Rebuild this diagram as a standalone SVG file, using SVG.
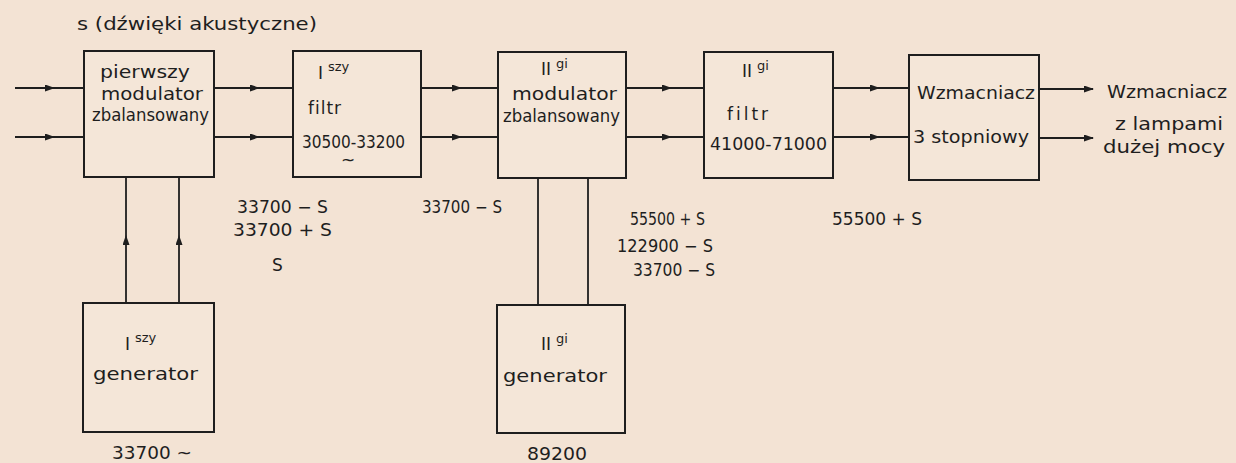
<svg xmlns="http://www.w3.org/2000/svg" width="1236" height="463" viewBox="0 0 1236 463">
<defs>
<style>
.bg{fill:#f3e3d4}
.box{fill:#f4e6d8;stroke:#1e1e1e;stroke-width:2}
.ln{fill:none;stroke:#1e1e1e;stroke-width:1.8}
.t{font-family:"DejaVu Sans","Liberation Sans",sans-serif;font-size:17px;fill:#1e1e1e;font-variant-ligatures:none}
.s{font-size:13px}
.m{text-anchor:middle}
</style>
<marker id="ar" viewBox="0 0 10 7" refX="5" refY="3.5" markerWidth="11" markerHeight="7" markerUnits="userSpaceOnUse" orient="auto">
<path d="M0,0 L10,3.5 L0,7 z" fill="#1e1e1e"/>
</marker>
<marker id="ae" viewBox="0 0 10 7" refX="9" refY="3.5" markerWidth="13" markerHeight="7" markerUnits="userSpaceOnUse" orient="auto">
<path d="M0,0 L10,3.5 L0,7 z" fill="#1e1e1e"/>
</marker>
</defs>
<rect class="bg" x="0" y="0" width="1236" height="463"/>

<text class="t" x="77" y="30" textLength="240" lengthAdjust="spacingAndGlyphs">s (dźwięki akustyczne)</text>

<g id="connectors">
<path class="ln" d="M15 88 L50 88 L84 88" marker-mid="url(#ar)"/>
<path class="ln" d="M15 137 L50 137 L84 137" marker-mid="url(#ar)"/>
<path class="ln" d="M214 88 L255 88 L293 88" marker-mid="url(#ar)"/>
<path class="ln" d="M214 137 L255 137 L293 137" marker-mid="url(#ar)"/>
<path class="ln" d="M421 88 L457 88 L498 88" marker-mid="url(#ar)"/>
<path class="ln" d="M421 137 L457 137 L498 137" marker-mid="url(#ar)"/>
<path class="ln" d="M626 88 L667 88 L704 88" marker-mid="url(#ar)"/>
<path class="ln" d="M626 137 L667 137 L704 137" marker-mid="url(#ar)"/>
<path class="ln" d="M833 88 L875 88 L909 88" marker-mid="url(#ar)"/>
<path class="ln" d="M833 137 L875 137 L909 137" marker-mid="url(#ar)"/>
<path class="ln" d="M1039 89 L1093 89" marker-end="url(#ae)"/>
<path class="ln" d="M1039 138 L1093 138" marker-end="url(#ae)"/>
<path class="ln" d="M126 303 L126 240 L126 177" marker-mid="url(#ar)"/>
<path class="ln" d="M179 303 L179 240 L179 177" marker-mid="url(#ar)"/>
<path class="ln" d="M538 305 L538 178"/>
<path class="ln" d="M588 305 L588 178"/>
</g>

<g id="mod1">
<rect class="box" x="84" y="51" width="130" height="126"/>
<text class="t" x="100" y="78" textLength="90" lengthAdjust="spacingAndGlyphs">pierwszy</text>
<text class="t" x="101" y="100" textLength="102" lengthAdjust="spacingAndGlyphs">modulator</text>
<text class="t" x="92" y="121" textLength="117" lengthAdjust="spacingAndGlyphs">zbalansowany</text>
</g>

<g id="filter1">
<rect class="box" x="293" y="51" width="128" height="126"/>
<text class="t" x="318" y="79">I<tspan class="s" dy="-8" dx="5">szy</tspan></text>
<text class="t" x="308" y="114" font-size="18" letter-spacing="1">filtr</text>
<text class="t" x="302" y="148" textLength="103" lengthAdjust="spacingAndGlyphs">30500-33200</text>
<text class="t" x="341" y="166" font-size="22">~</text>
</g>

<g id="mod2">
<rect class="box" x="498" y="52" width="128" height="126"/>
<text class="t" x="541" y="75">II<tspan class="s" dy="-7" dx="5">gi</tspan></text>
<text class="t" x="512" y="100" textLength="105" lengthAdjust="spacingAndGlyphs">modulator</text>
<text class="t" x="503" y="122" textLength="117" lengthAdjust="spacingAndGlyphs">zbalansowany</text>
</g>

<g id="filter2">
<rect class="box" x="704" y="52" width="129" height="126"/>
<text class="t" x="742" y="77">II<tspan class="s" dy="-7" dx="5">gi</tspan></text>
<text class="t" x="727" y="120" font-size="19" letter-spacing="3">filtr</text>
<text class="t" x="710" y="150" textLength="117" lengthAdjust="spacingAndGlyphs">41000-71000</text>
</g>

<g id="amp">
<rect class="box" x="909" y="55" width="130" height="125"/>
<text class="t" x="917" y="99" textLength="118" lengthAdjust="spacingAndGlyphs">Wzmacniacz</text>
<text class="t" x="913" y="143" textLength="116" lengthAdjust="spacingAndGlyphs">3 stopniowy</text>
</g>

<g id="output">
<text class="t" x="1107" y="98" textLength="120" lengthAdjust="spacingAndGlyphs">Wzmacniacz</text>
<text class="t" x="1115" y="130" textLength="108" lengthAdjust="spacingAndGlyphs">z lampami</text>
<text class="t" x="1103" y="153" textLength="122" lengthAdjust="spacingAndGlyphs">dużej mocy</text>
</g>

<g id="gen1">
<rect class="box" x="83" y="303" width="131" height="129"/>
<text class="t" x="125" y="350">I<tspan class="s" dy="-8" dx="5">szy</tspan></text>
<text class="t" x="93" y="380" textLength="105" lengthAdjust="spacingAndGlyphs">generator</text>
<text class="t" x="112" y="459" textLength="80" lengthAdjust="spacingAndGlyphs">33700 ~</text>
</g>

<g id="gen2">
<rect class="box" x="497" y="305" width="128" height="128"/>
<text class="t" x="541" y="350">II<tspan class="s" dy="-7" dx="5">gi</tspan></text>
<text class="t" x="503" y="382" textLength="104" lengthAdjust="spacingAndGlyphs">generator</text>
<text class="t" x="527" y="460" textLength="60" lengthAdjust="spacingAndGlyphs">89200</text>
</g>

<g id="labels">
<text class="t" x="237" y="213" textLength="91" lengthAdjust="spacingAndGlyphs">33700 − S</text>
<text class="t" x="233" y="236" textLength="99" lengthAdjust="spacingAndGlyphs">33700 + S</text>
<text class="t" x="272" y="271">S</text>
<text class="t" x="422" y="213" textLength="80" lengthAdjust="spacingAndGlyphs">33700 − S</text>
<text class="t" x="630" y="225" textLength="75" lengthAdjust="spacingAndGlyphs">55500 + S</text>
<text class="t" x="617" y="252" textLength="96" lengthAdjust="spacingAndGlyphs">122900 − S</text>
<text class="t" x="633" y="276" textLength="82" lengthAdjust="spacingAndGlyphs">33700 − S</text>
<text class="t" x="832" y="225" textLength="90" lengthAdjust="spacingAndGlyphs">55500 + S</text>
</g>
</svg>
